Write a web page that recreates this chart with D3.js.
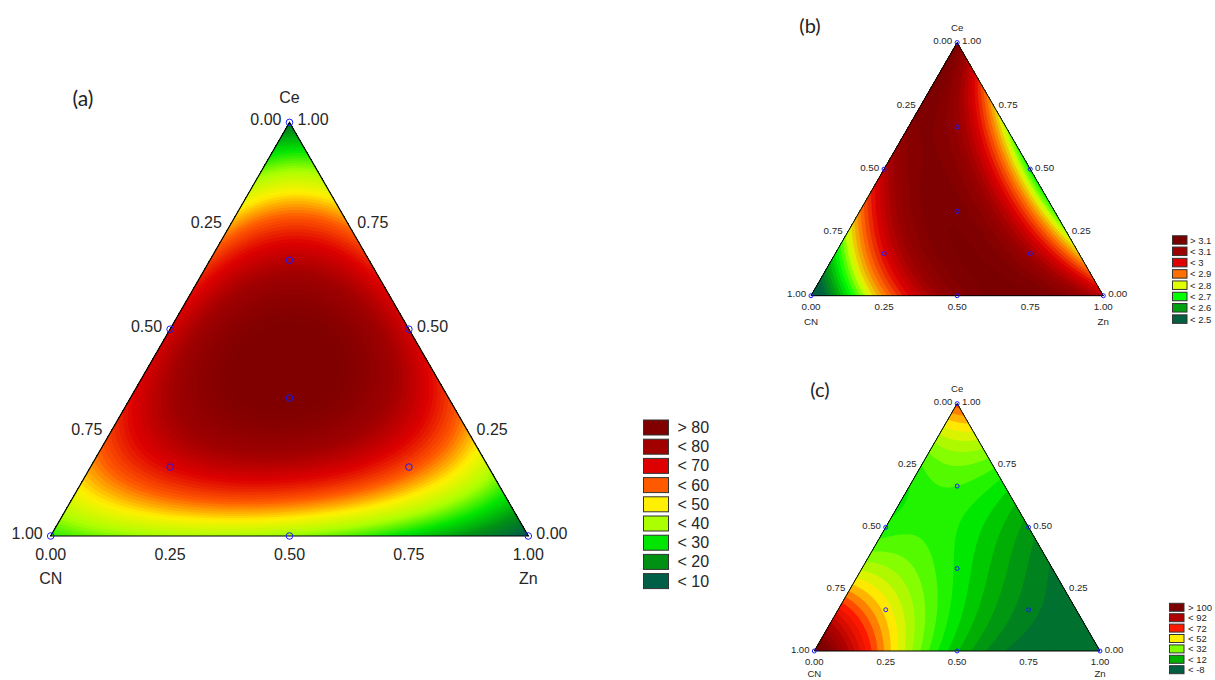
<!DOCTYPE html>
<html lang="en">
<head>
    <meta charset="UTF-8">
    <title>Ternary contour plots</title>
    <script src="https://cdn.jsdelivr.net/npm/d3@7"></script>
    <style>
        body{
            margin: 0;
            background: #fff;
        }
        .ticks{
            font-family: Arial, 'Liberation Sans', sans-serif;
            fill: #262626;
        }
        .panelLabel{
            font-family: Lato, 'Open Sans', sans-serif;
            fill: #222;
        }
        .borde{
            fill: none;
            stroke: #000;
        }
        .puntos{
            fill: none;
            stroke: #1a1aff;
        }
    </style>
</head>
<body>
<svg id="grafico" width="1215" height="680"></svg>

<script>

// design points of the mixture (fractions of CN, Zn, Ce)
var cnFrac = [1, 0, 0, 0.5, 0.5, 0, 1/3, 2/3, 1/6, 1/6];
var znFrac = [0, 1, 0, 0.5, 0, 0.5, 1/3, 1/6, 2/3, 1/6];
var ceFrac = [0, 0, 1, 0, 0.5, 0.5, 1/3, 1/6, 1/6, 2/3];

// responses read at the design points
var respA = [27, 3, 10, 33, 66, 66, 85, 66, 58, 72];
var respB = [2.35, 3.0, 3.15, 3.1, 3.0, 2.65, 3.12, 2.96, 3.05, 3.08];
var respC = [115, -10, 58, 5, 16, -3, 11, 45, -6, 22];

var tickValues = [0, 0.25, 0.5, 0.75, 1];

// legends (top to bottom)
var legendA = ["> 80", "< 80", "< 70", "< 60", "< 50", "< 40", "< 30", "< 20", "< 10"];
var legendB = ["> 3.1", "< 3.1", "< 3", "< 2.9", "< 2.8", "< 2.7", "< 2.6", "< 2.5"];
var legendC = ["> 100", "< 92", "< 72", "< 52", "< 32", "< 12", "< -8"];

var colorsA = ["#800000", "#a00000", "#de0000", "#ff5a00", "#fff000", "#aaff00", "#00e600", "#009114", "#005f46"];
var colorsB = ["#7a0000", "#9c0000", "#e00000", "#ff7000", "#e0ff00", "#00ff00", "#00a010", "#006040"];
var colorsC = ["#7a0000", "#b00000", "#ff1a00", "#ffee00", "#80ff00", "#00b000", "#005f40"];

// colour ramps used for the filled contours (value stops)
var rampA = [85, 75, 65, 55, 45, 35, 25, 15, 5];
var rampB = [3.15, 3.05, 2.95, 2.85, 2.75, 2.65, 2.55, 2.45];
var rampC = [104, 82, 62, 42, 27, 14, 4, -8, -18];
var rampColorsC = ["#7a0000", "#b00000", "#ff1a00", "#ffee00", "#80ff00", "#00f000", "#00b400", "#008020", "#005f40"];

var grafico = d3.select("#grafico");
var formato = d3.format(".2f");

// Scheffe special quartic model
function terms(cn, zn, ce){
    return [cn, zn, ce, cn*zn, cn*ce, zn*ce, cn*cn*zn*ce, cn*zn*zn*ce, cn*zn*ce*ce];
}

function fitModel(resp){
    var rows = cnFrac.map(function(d, i){ return terms(cnFrac[i], znFrac[i], ceFrac[i]); });
    var k = rows[0].length;
    var A = [], b = [];
    for (var a = 0; a < k; a++){
        A.push(d3.range(k).map(function(c){
            return d3.sum(rows, function(row){ return row[a] * row[c]; });
        }));
        b.push(d3.sum(rows, function(row, i){ return row[a] * resp[i]; }));
    }
    for (var col = 0; col < k; col++){
        var piv = col;
        for (var r = col + 1; r < k; r++){
            if (Math.abs(A[r][col]) > Math.abs(A[piv][col])) piv = r;
        }
        var t = A[col]; A[col] = A[piv]; A[piv] = t;
        var tb = b[col]; b[col] = b[piv]; b[piv] = tb;
        for (var r2 = col + 1; r2 < k; r2++){
            var f = A[r2][col] / A[col][col];
            for (var c = col; c < k; c++) A[r2][c] -= f * A[col][c];
            b[r2] -= f * b[col];
        }
    }
    var x = new Array(k);
    for (var r3 = k - 1; r3 >= 0; r3--){
        var s = b[r3];
        for (var c2 = r3 + 1; c2 < k; c2++) s -= A[r3][c2] * x[c2];
        x[r3] = s / A[r3][r3];
    }
    return x;
}

function drawPanel(p){
    var s = p.w / 477.6;
    var h = p.w * Math.sqrt(3) / 2;
    var g = grafico.append("g");

    var xScale = d3.scaleLinear().domain([0, 1]).range([p.x, p.x + p.w]);
    var yScale = d3.scaleLinear().domain([0, 1]).range([p.y, p.y - h]);
    function px(cn, zn, ce){ return xScale(zn + ce / 2); }
    function py(cn, zn, ce){ return yScale(ce); }

    var color = d3.scaleLinear().domain(p.ramp).range(p.rampColors).clamp(true);

    // evaluate fitted surface on a pixel grid
    var coef = fitModel(p.resp);
    var r = p.res;
    var gx0 = p.x - r, gy0 = p.y - h - r;
    var nx = Math.ceil(p.w / r) + 3, ny = Math.ceil(h / r) + 3;
    var values = new Array(nx * ny);
    for (var j = 0; j < ny; j++){
        for (var i = 0; i < nx; i++){
            var ce = yScale.invert(gy0 + j * r);
            var zn = xScale.invert(gx0 + i * r) - ce / 2;
            var cn = 1 - zn - ce;
            values[j * nx + i] = d3.sum(terms(cn, zn, ce), function(v, q){ return v * coef[q]; });
        }
    }
    var lo = d3.min(values), hi = d3.max(values);
    var thresholds = d3.range(Math.floor(lo / p.step) * p.step, hi, p.step);
    var contornos = d3.contours().size([nx, ny]).thresholds(thresholds)(values);
    var path = d3.geoPath(d3.geoIdentity().scale(r).translate([gx0 - r / 2, gy0 - r / 2]));

    var corners = [[1, 0, 0], [0, 1, 0], [0, 0, 1]].map(function(d){ return [px(d[0], d[1], d[2]), py(d[0], d[1], d[2])]; });

    g.append("clipPath")
        .attr("id", "clip" + p.id)
        .append("polygon")
        .attr("points", corners.join(" "));

    g.append("g")
        .attr("clip-path", "url(#clip" + p.id + ")")
        .selectAll("path")
        .data(contornos)
        .enter()
        .append("path")
        .attr("d", path)
        .attr("fill", function(d){ return color(d.value + p.step / 2); });

    g.append("polygon")
        .classed("borde", true)
        .attr("points", corners.join(" "))
        .attr("stroke-width", p.id == "a" ? 1.2 : 1);

    // tick labels on the three sides
    var fs = 16 * s;
    // left side: CN
    g.selectAll(".tickCN")
        .data(tickValues)
        .enter()
        .append("text")
        .classed("ticks", true)
        .text(function(d){ return formato(d); })
        .attr("x", function(d){ return px(d, 0, 1 - d) - 8 * s; })
        .attr("y", function(d){ return py(d, 0, 1 - d) - 3 * s; })
        .attr("text-anchor", "end")
        .attr("dominant-baseline", "central")
        .attr("font-size", fs);
    // right side: Ce
    g.selectAll(".tickCe")
        .data(tickValues)
        .enter()
        .append("text")
        .classed("ticks", true)
        .text(function(d){ return formato(d); })
        .attr("x", function(d){ return px(0, 1 - d, d) + 8 * s; })
        .attr("y", function(d){ return py(0, 1 - d, d) - 3 * s; })
        .attr("dominant-baseline", "central")
        .attr("font-size", fs);
    // bottom: Zn
    g.selectAll(".tickZn")
        .data(tickValues)
        .enter()
        .append("text")
        .classed("ticks", true)
        .text(function(d){ return formato(d); })
        .attr("x", function(d){ return px(1 - d, d, 0); })
        .attr("y", function(d){ return py(1 - d, d, 0) + 18 * s; })
        .attr("text-anchor", "middle")
        .attr("dominant-baseline", "central")
        .attr("font-size", fs);

    var nombres = [["Ce", corners[2][0], corners[2][1] - 25 * s],
                   ["CN", corners[0][0], corners[0][1] + p.nameDy * s],
                   ["Zn", corners[1][0], corners[1][1] + p.nameDy * s]];
    g.selectAll(".nombre")
        .data(nombres)
        .enter()
        .append("text")
        .classed("ticks", true)
        .text(function(d){ return d[0]; })
        .attr("x", function(d){ return d[1]; })
        .attr("y", function(d){ return d[2]; })
        .attr("text-anchor", "middle")
        .attr("dominant-baseline", "central")
        .attr("font-size", fs);

    // design points
    g.selectAll(".puntos")
        .data(cnFrac)
        .enter()
        .append("circle")
        .classed("puntos", true)
        .attr("cx", function(d, i){ return px(cnFrac[i], znFrac[i], ceFrac[i]); })
        .attr("cy", function(d, i){ return py(cnFrac[i], znFrac[i], ceFrac[i]); })
        .attr("r", 3.3 * s)
        .attr("stroke-width", 1);

    g.append("text")
        .classed("panelLabel", true)
        .text(p.label)
        .attr("x", p.lx)
        .attr("y", p.ly)
        .attr("text-anchor", "middle")
        .attr("dominant-baseline", "central")
        .attr("font-size", p.lfs);

    // legend
    var leyenda = g.selectAll(".leyenda")
        .data(p.legend)
        .enter()
        .append("g")
        .attr("transform", function(d, i){ return "translate(" + p.legX + "," + (p.legY + i * p.legStep) + ")"; });
    leyenda.append("rect")
        .attr("x", 0)
        .attr("y", -p.boxH / 2)
        .attr("width", p.boxW)
        .attr("height", p.boxH)
        .attr("fill", function(d, i){ return p.colors[i]; })
        .attr("stroke", "#333")
        .attr("stroke-width", 1);
    leyenda.append("text")
        .classed("ticks", true)
        .text(function(d){ return d; })
        .attr("x", p.boxW + p.gap)
        .attr("y", 0)
        .attr("dominant-baseline", "central")
        .attr("font-size", p.legFs);
}

drawPanel({id: "a", label: "(a)", resp: respA, legend: legendA, colors: colorsA, ramp: rampA, rampColors: colorsA,
    x: 50.7, y: 536, w: 477.6, res: 2, step: 1.25, lx: 83, ly: 97, lfs: 21, nameDy: 42.5,
    legX: 643.5, legY: 427.5, legStep: 19.2, boxW: 25, boxH: 15, gap: 9, legFs: 16});

drawPanel({id: "b", label: "(b)", resp: respB, legend: legendB, colors: colorsB, ramp: rampB, rampColors: colorsB,
    x: 811, y: 295.7, w: 292.3, res: 1.5, step: 0.025, lx: 810, ly: 25, lfs: 20, nameDy: 42.5,
    legX: 1172.5, legY: 240, legStep: 11.3, boxW: 14.5, boxH: 8.5, gap: 3, legFs: 9.5});

drawPanel({id: "c", label: "(c)", resp: respC, legend: legendC, colors: colorsC, ramp: rampC, rampColors: rampColorsC,
    x: 814.3, y: 651, w: 285.7, res: 1.5, step: 5, lx: 820, ly: 389, lfs: 20, nameDy: 38,
    legX: 1169.5, legY: 607.3, legStep: 10.4, boxW: 14.5, boxH: 8, gap: 4, legFs: 9.5});

</script>
</body>
</html>
